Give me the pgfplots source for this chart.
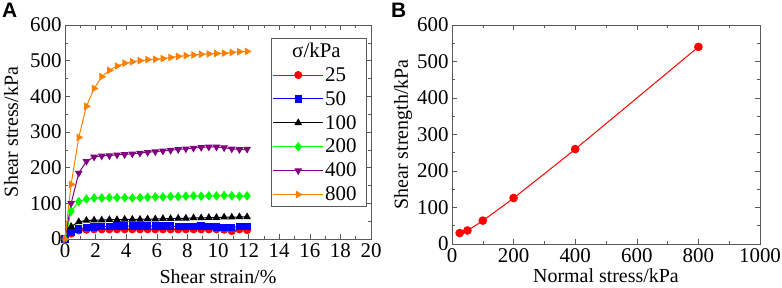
\documentclass[border=0pt]{standalone}
\usepackage{fontspec}
\setmainfont{Liberation Serif}
\newfontfamily\panelfont{Liberation Sans}
\usepackage{pgfplots}
\pgfplotsset{compat=1.18}
\definecolor{myorange}{RGB}{255,128,0}
\definecolor{mypurple}{RGB}{128,0,128}
\definecolor{mygreen}{RGB}{0,255,0}
\definecolor{axgray}{RGB}{90,90,90}
\pgfplotsset{
  mystyle/.style={
    scale only axis,
    axis line style={axgray, line width=0.8pt},
    every tick/.style={axgray, line width=0.6pt},
    tick align=inside,
    major tick length=5bp, minor tick length=3bp,
    ticklabel style={font=\fontsize{21}{23}\selectfont, text=black},
    xticklabel style={yshift=-1.5bp},
    label style={font=\fontsize{20}{22}\selectfont},
    /pgf/number format/assume math mode=true,
    /pgf/number format/1000 sep={},
    ymin=0, ymax=600, ytick={0,100,...,600}, minor y tick num=1,
  }
}
\begin{document}
\begin{tikzpicture}[x=1bp,y=1bp]
\path[use as bounding box] (0,0) rectangle (782,287);
\node[anchor=north west, inner sep=0pt, font=\panelfont\bfseries\fontsize{21}{21}\selectfont] at (2bp,284bp) {A};
\node[anchor=north west, inner sep=0pt, font=\panelfont\bfseries\fontsize{21}{21}\selectfont] at (391bp,284bp) {B};
\begin{axis}[mystyle,
  at={(65bp,48bp)}, anchor=south west,
  width=306bp, height=214bp,
  xmin=0, xmax=20, xtick={0,2,...,20}, minor x tick num=1,
  xlabel={Shear strain/\%}, ylabel={Shear stress/kPa},
  xlabel style={at={(axis description cs:0.5,-0.2056)}, anchor=base},
  ylabel style={at={(axis description cs:-0.176,0.5)}, anchor=center},
  every axis plot/.append style={line width=1pt, mark size=3.5bp},
  legend style={at={(rel axis cs:0.985,0.939)}, anchor=north east,
    draw=axgray, line width=0.6pt, font=\fontsize{21}{23}\selectfont,
    row sep=5.5bp, inner xsep=1bp, inner ysep=3bp,
    nodes={inner sep=1.5bp}},
  legend cell align=left,
  legend image code/.code={\draw[mark repeat=2,mark phase=2] plot coordinates {(0bp,0bp)(25bp,0bp)(50bp,0bp)};},
]
\addlegendimage{empty legend}
\addlegendentry{\hspace*{-33bp}σ/kPa}
\addplot[red, mark=*] coordinates {
(0,0)(0.4,15)(0.9,24)(1.4,26)(1.9,27)(2.4,27)(2.9,27)(3.4,27)(3.9,27)(4.4,27)(4.9,27)(5.4,27)(5.9,27)(6.4,27)(6.9,27)(7.4,27)(7.9,27)(8.4,27)(8.9,27)(9.4,27)(9.9,27)(10.4,26)(10.9,22)(11.4,27)(11.9,25)};
\addlegendentry{25}
\addplot[blue, mark=square*, mark size=3.2bp] coordinates {
(0,0)(0.4,20)(0.9,28)(1.4,32)(1.9,34)(2.4,35)(2.9,35)(3.4,36)(3.9,36)(4.4,36)(4.9,36)(5.4,36)(5.9,36)(6.4,36)(6.9,36)(7.4,35)(7.9,35)(8.4,35)(8.9,36)(9.4,35)(9.9,34)(10.4,33)(10.9,33)(11.4,35)(11.9,35)};
\addlegendentry{50}
\addplot[black, mark=triangle*] coordinates {
(0,0)(0.4,35)(0.9,48)(1.4,52)(1.9,53)(2.4,53)(2.9,54)(3.4,54)(3.9,55)(4.4,55)(4.9,55)(5.4,56)(5.9,56)(6.4,57)(6.9,57)(7.4,58)(7.9,58)(8.4,59)(8.9,59)(9.4,60)(9.9,60)(10.4,61)(10.9,61)(11.4,62)(11.9,62)};
\addlegendentry{100\hspace*{7bp}}
\addplot[mygreen, mark=diamond*, mark size=4bp] coordinates {
(0,0)(0.4,78)(0.9,105)(1.4,112)(1.9,115)(2.4,115)(2.9,116)(3.4,116)(3.9,116)(4.4,115)(4.9,116)(5.4,117)(5.9,118)(6.4,118)(6.9,119)(7.4,119)(7.9,120)(8.4,121)(8.9,120)(9.4,121)(9.9,121)(10.4,122)(10.9,121)(11.4,120)(11.9,121)};
\addlegendentry{200}
\addplot[mypurple, mark=triangle*, mark options={rotate=180}] coordinates {
(0,0)(0.4,100)(0.9,185)(1.4,218)(1.9,230)(2.4,233)(2.9,234)(3.4,236)(3.9,237)(4.4,239)(4.9,241)(5.4,243)(5.9,245)(6.4,247)(6.9,249)(7.4,251)(7.9,253)(8.4,255)(8.9,257)(9.4,258)(9.9,258)(10.4,256)(10.9,253)(11.4,251)(11.9,252)};
\addlegendentry{400}
\addplot[myorange, mark=triangle*, mark options={rotate=-90}] coordinates {
(0,0)(0.4,153)(0.9,285)(1.4,372)(1.9,422)(2.4,455)(2.9,473)(3.4,485)(3.9,493)(4.4,497)(4.9,500)(5.4,503)(5.9,504)(6.4,506)(6.9,509)(7.4,512)(7.9,514)(8.4,516)(8.9,518)(9.4,519)(9.9,520)(10.4,521)(10.9,523)(11.4,525)(11.9,526)};
\addlegendentry{800}
\end{axis}
\begin{axis}[mystyle,
  at={(452bp,43bp)}, anchor=south west,
  width=308bp, height=219bp,
  xmin=0, xmax=1000, xtick={0,200,...,1000}, minor x tick num=1,
  xlabel={Normal stress/kPa}, ylabel={Shear strength/kPa},
  xlabel style={at={(axis description cs:0.5,-0.178)}, anchor=base},
  ylabel style={at={(axis description cs:-0.159,0.5)}, anchor=center},
]
\addplot[red, line width=1pt, mark=*, mark size=3.8bp, smooth, tension=0.3] coordinates {
(25,30)(50,37)(100,64)(200,126)(400,260)(800,540)};
\end{axis}
\end{tikzpicture}
\end{document}
